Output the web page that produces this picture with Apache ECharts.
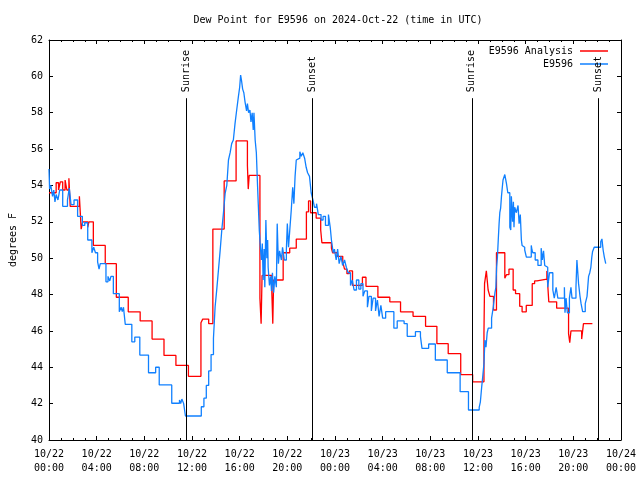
<!DOCTYPE html>
<html><head><meta charset="utf-8">
<script src="https://cdn.jsdelivr.net/npm/echarts@6/dist/echarts.min.js"></script>
<style>html,body{margin:0;padding:0;background:#fff}#c{width:640px;height:480px}</style>
</head><body><div id="c"></div>
<script>
const FONT = 'DejaVu Sans Mono';
const titleText = 'Dew Point for E9596 on 2024-Oct-22 (time in UTC)';
const yAxisTitle = 'degrees F';
const seriesNames = ['E9596 Analysis', 'E9596'];
const seriesColors = ['#ff0000', '#1080ff'];
const xTickLabels = ['10/22\n00:00','10/22\n04:00','10/22\n08:00','10/22\n12:00','10/22\n16:00','10/22\n20:00',
  '10/23\n00:00','10/23\n04:00','10/23\n08:00','10/23\n12:00','10/23\n16:00','10/23\n20:00','10/24\n00:00'];
// hours since 10/22 00:00 UTC, value in degrees F
const analysis = [[0,53.6],[0.6,54.15],[0.8,53.75],[0.95,54.2],[1.15,53.75],[1.35,54.3],[1.5,53.75],[1.67,54.4],[1.78,52.85],
  [2.55,53.4],[2.7,51.6],[2.83,52.0],[3.25,51.7],[3.35,52.0],[3.72,50.7],[4.72,49.7],[5.65,47.85],[6.65,47.05],[7.65,46.55],
  [8.65,45.55],[9.65,44.65],[10.65,44.1],[11.7,43.5],[12.75,46.45],[12.9,46.65],[13.4,46.4],[13.75,51.6],[14.7,54.25],
  [15.7,56.45],[16.65,55.1],[16.72,53.8],[16.8,54.55],[17.7,47.8],[17.8,46.4],[17.88,49.05],[18.7,48.1],[18.78,46.4],
  [18.85,48.8],[19.65,50.3],[20.2,50.55],[20.75,51.05],[21.6,52.55],[21.78,53.15],[21.95,52.5],[22.42,52.2],[22.8,51.55],
  [22.9,50.85],[23.7,50.55],[23.8,50.3],[24.2,50.1],[24.65,49.8],[24.8,49.4],[25.0,49.15],[25.2,49.3],[25.47,48.5],
  [26.3,48.95],[26.6,48.45],[27.6,47.85],[28.6,47.6],[29.5,47.05],[30.55,46.8],[31.6,46.25],[32.55,45.3],[33.5,44.75],
  [34.55,43.6],[35.55,43.2],[36.5,45.85],[36.55,48.6],[36.7,49.3],[36.85,48.25],[37.0,47.9],[37.3,47.15],[37.55,50.3],
  [38.25,48.9],[38.4,49.1],[38.6,49.4],[38.95,48.25],[39.15,48.05],[39.5,47.35],[39.7,47.05],[40.05,47.4],[40.55,48.6],
  [40.75,48.75],[40.95,48.85],[41.78,49.3],[41.94,47.6],[42.6,47.25],[43.6,45.85],[43.7,45.35],[43.8,46.0],[44.7,45.55],
  [44.85,46.4],[45.6,46.4]];
const observed = [[0,54.9],[0.05,53.8],[0.15,54.0],[0.3,53.4],[0.4,53.75],[0.5,53.1],[0.6,53.5],[0.75,53.2],[0.9,53.75],
  [1.15,52.85],[1.55,53.2],[1.7,53.85],[1.85,52.95],[2.1,53.2],[2.4,52.3],[2.8,51.8],[3.0,51.95],[3.25,51.0],[3.6,50.3],
  [3.75,50.6],[3.9,50.3],[4.08,49.8],[4.2,49.4],[4.3,49.7],[4.78,48.7],[4.95,49.0],[5.1,48.75],[5.2,49.0],[5.4,48.05],
  [5.9,47.06],[6.05,47.3],[6.15,47.06],[6.25,47.3],[6.4,46.36],[6.95,45.4],[7.2,45.66],[7.62,44.67],[8.35,43.7],[8.95,44.0],
  [9.25,43.03],[10.3,42.02],[10.95,42.2],[11.05,42.0],[11.15,42.25],[11.3,42.0],[11.45,41.32],[12.78,41.83],[13.0,42.3],
  [13.2,43.0],[13.4,43.8],[13.6,44.7],[13.8,45.6],[13.94,47.33],[14.08,48.3],[14.22,49.35],[14.36,50.4],[14.5,51.55],
  [14.64,52.5],[14.78,53.56],[14.92,54.0],[15.06,55.4],[15.2,55.8],[15.33,56.3],[15.47,56.5],[15.61,57.4],[15.75,58.15],
  [15.89,58.87],[16.0,59.4],[16.08,60.07],[16.15,59.8],[16.25,59.3],[16.35,59.1],[16.45,58.6],[16.58,58.1],[16.65,58.5],
  [16.75,58.0],[16.86,58.15],[16.95,57.5],[17.05,58.0],[17.14,57.05],[17.2,58.0],[17.3,56.5],[17.4,55.8],[17.5,54.0],
  [17.56,53.0],[17.65,51.5],[17.75,50.5],[17.83,49.9],[17.9,50.8],[17.97,48.8],[18.05,50.5],[18.11,48.4],[18.2,52.1],
  [18.28,50.0],[18.35,51.0],[18.39,49.5],[18.5,48.5],[18.6,49.0],[18.67,48.2],[18.75,49.2],[18.85,48.1],[18.95,49.0],
  [19.08,48.4],[19.15,51.9],[19.25,49.7],[19.35,50.4],[19.5,49.9],[19.6,50.6],[19.75,49.9],[19.92,50.5],[20.0,51.9],
  [20.1,50.6],[20.2,51.5],[20.33,52.65],[20.45,53.9],[20.55,53.0],[20.65,54.5],[20.75,55.4],[20.9,55.5],[21.05,55.85],
  [21.17,55.6],[21.3,55.8],[21.45,55.5],[21.58,55.0],[21.7,54.7],[21.86,54.5],[22.0,53.6],[22.15,53.2],[22.28,52.8],
  [22.45,53.0],[22.6,52.4],[22.83,52.1],[23.0,52.3],[23.2,51.8],[23.45,52.4],[23.6,51.7],[23.7,51.0],[23.85,50.3],
  [23.95,50.5],[24.1,49.9],[24.22,50.5],[24.35,49.7],[24.5,50.1],[24.64,49.6],[24.8,49.9],[24.95,49.5],[25.1,49.2],
  [25.3,48.5],[25.45,48.8],[25.6,48.25],[25.8,48.8],[26.0,48.3],[26.17,48.6],[26.35,47.9],[26.5,48.2],[26.72,47.3],
  [26.85,47.9],[27.05,47.1],[27.2,47.8],[27.4,47.1],[27.56,47.7],[27.7,46.8],[27.85,47.4],[28.0,46.7],[28.25,47.06],
  [28.94,46.15],[29.22,46.55],[29.8,46.4],[30.06,45.7],[30.75,45.96],[31.17,45.7],[31.3,45.04],[31.86,45.28],[32.42,44.4],
  [33.42,43.7],[34.5,42.66],[35.2,41.65],[36.1,41.8],[36.2,42.1],[36.3,42.85],[36.4,43.5],[36.5,44.2],[36.58,45.5],
  [36.67,45.1],[36.77,45.9],[36.86,46.15],[37.14,46.7],[37.28,47.3],[37.42,48.1],[37.5,48.4],[37.56,49.5],[37.63,50.06],
  [37.7,51.0],[37.77,51.9],[37.83,52.5],[37.9,52.75],[37.97,53.4],[38.04,53.9],[38.1,54.3],[38.25,54.6],[38.39,54.1],
  [38.5,53.6],[38.67,51.7],[38.75,51.55],[38.8,53.4],[38.9,52.0],[38.97,53.1],[39.02,51.7],[39.08,52.8],[39.22,52.5],
  [39.36,52.9],[39.45,51.9],[39.55,52.4],[39.64,51.0],[39.7,50.7],[39.78,50.6],[39.92,50.45],[40.06,50.06],[40.47,50.7],
  [40.53,50.45],[40.6,50.3],[40.8,49.9],[41.03,49.6],[41.3,50.55],[41.4,49.9],[41.5,50.4],[41.6,49.6],[41.72,49.5],
  [41.85,48.4],[42.0,49.2],[42.28,48.25],[42.4,47.8],[42.56,48.4],[42.7,47.8],[43.25,48.4],[43.3,47.0],[43.39,47.8],
  [43.5,47.0],[43.67,47.8],[43.8,48.4],[43.89,47.8],[44.22,48.4],[44.3,49.9],[44.44,48.6],[44.56,47.9],[44.65,47.5],
  [44.78,47.06],[45.0,47.5],[45.15,47.9],[45.28,49.0],[45.38,49.2],[45.47,49.5],[45.55,50.06],[45.61,50.35],[45.7,50.45],
  [45.75,50.6],[46.3,50.9],[46.4,51.06],[46.5,50.45],[46.6,50.06],[46.72,49.7]];
const eventNames = ['Sunrise', 'Sunset', 'Sunrise', 'Sunset'];
const eventHours = [11.52, 22.12, 35.48, 46.1];
const eventLineTop = 58.8;

const txt = { fontFamily: FONT, fontSize: 10, color: '#000' };
const xCommon = {
  type: 'value', min: 0, max: 48, interval: 4,
  axisLine: { show: true, onZero: false, lineStyle: { color: '#000', width: 1 } },
  axisTick: { show: true, inside: true, length: 4, lineStyle: { color: '#000' } },
  minorTick: { show: true, splitNumber: 4, length: 2, lineStyle: { color: '#000' } },
  splitLine: { show: false }
};
const yCommon = {
  type: 'value', min: 40, max: 62, interval: 2,
  axisLine: { show: true, onZero: false, lineStyle: { color: '#000', width: 1 } },
  axisTick: { show: true, inside: true, length: 4, lineStyle: { color: '#000' } },
  splitLine: { show: false }
};

const chart = echarts.init(document.getElementById('c'), null, { renderer: 'canvas' });
chart.setOption({
  animation: false,
  backgroundColor: '#fff',
  title: { text: titleText, left: 333, top: 10, textAlign: 'center',
    textStyle: Object.assign({ fontWeight: 'normal' }, txt) },
  grid: { left: 46, right: 19, top: 40, bottom: 40 },
  legend: {
    data: seriesNames, orient: 'vertical', right: 27, top: 41, align: 'right',
    icon: 'rect', itemWidth: 28, itemHeight: 1.5, itemGap: 3,
    formatter: n => '{a|' + n + '}',
    textStyle: { rich: { a: Object.assign({ width: 84, align: 'right', lineHeight: 12, padding: [0, 2, 0, 0] }, txt) } }
  },
  xAxis: [
    Object.assign({ position: 'bottom', axisLabel: Object.assign({ margin: 7, lineHeight: 14,
      formatter: v => xTickLabels[Math.round(v / 4)] }, txt) }, xCommon),
    Object.assign({ position: 'top', axisLabel: { show: false } }, xCommon)
  ],
  yAxis: [
    Object.assign({ position: 'left', name: yAxisTitle, nameLocation: 'middle', nameGap: 31, nameRotate: 90,
      nameTextStyle: txt, axisLabel: Object.assign({ margin: 6 }, txt) }, yCommon),
    Object.assign({ position: 'right', axisLabel: { show: false } }, yCommon)
  ],
  series: [
    {
      name: seriesNames[0], type: 'line', step: 'end', showSymbol: false, data: analysis,
      lineStyle: { color: seriesColors[0], width: 1.3 }, itemStyle: { color: seriesColors[0] },
      markLine: {
        silent: true, symbol: ['none', 'none'], label: { show: false },
        lineStyle: { color: '#000', width: 1, type: 'solid' },
        data: eventHours.map(h => [{ coord: [h, 40] }, { coord: [h, eventLineTop] }])
      },
      markPoint: {
        silent: true, symbol: 'circle', symbolSize: 0.1, itemStyle: { color: 'rgba(0,0,0,0)' },
        label: Object.assign({ show: true, formatter: '{b}', position: 'top', distance: 6, rotate: 90,
          align: 'left', verticalAlign: 'middle' }, txt),
        data: eventHours.map((h, i) => ({ name: eventNames[i], coord: [h, eventLineTop] }))
      }
    },
    {
      name: seriesNames[1], type: 'line', step: 'end', showSymbol: false, data: observed,
      lineStyle: { color: seriesColors[1], width: 1.3 }, itemStyle: { color: seriesColors[1] }
    }
  ]
});
</script></body></html>
